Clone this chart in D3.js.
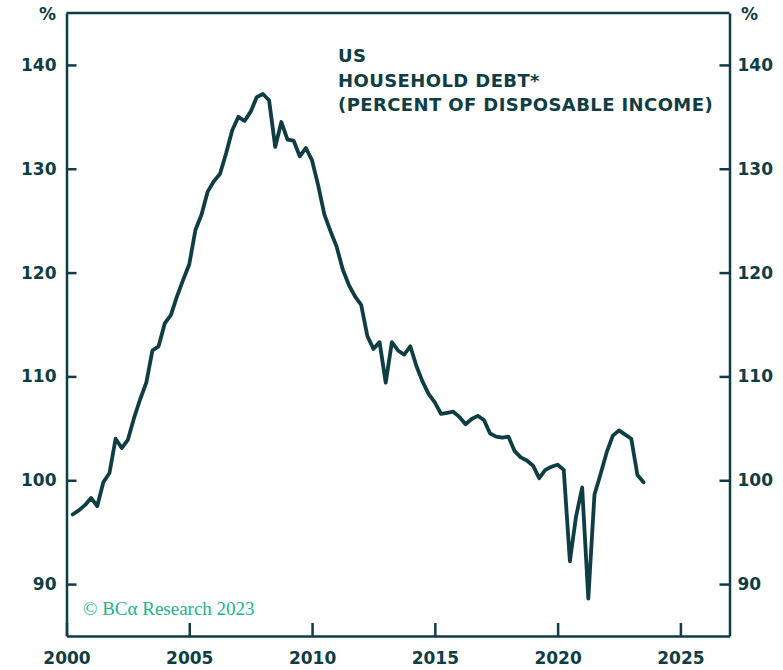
<!DOCTYPE html>
<html>
<head>
<meta charset="utf-8">
<script src="https://cdn.jsdelivr.net/npm/d3@7"></script>
<style>
  body { margin: 0; background: #fff; }
  svg { display: block; }
  .axis path, .axis line { stroke: #0e3d44; stroke-width: 2.5; }
  .axis text { fill: #0e3d44; font-family: "DejaVu Sans", sans-serif; font-weight: 700; font-size: 17px; }
</style>
</head>
<body>
<svg id="svg" width="783" height="670"></svg>
<script>
// quarterly periods (plotted at quarter end)
const quarters = [
  '2000Q1','2000Q2','2000Q3','2000Q4','2001Q1','2001Q2','2001Q3','2001Q4',
  '2002Q1','2002Q2','2002Q3','2002Q4','2003Q1','2003Q2','2003Q3','2003Q4',
  '2004Q1','2004Q2','2004Q3','2004Q4','2005Q1','2005Q2','2005Q3','2005Q4',
  '2006Q1','2006Q2','2006Q3','2006Q4','2007Q1','2007Q2','2007Q3','2007Q4',
  '2008Q1','2008Q2','2008Q3','2008Q4','2009Q1','2009Q2','2009Q3','2009Q4',
  '2010Q1','2010Q2','2010Q3','2010Q4','2011Q1','2011Q2','2011Q3','2011Q4',
  '2012Q1','2012Q2','2012Q3','2012Q4','2013Q1','2013Q2','2013Q3','2013Q4',
  '2014Q1','2014Q2','2014Q3','2014Q4','2015Q1','2015Q2','2015Q3','2015Q4',
  '2016Q1','2016Q2','2016Q3','2016Q4','2017Q1','2017Q2','2017Q3','2017Q4',
  '2018Q1','2018Q2','2018Q3','2018Q4','2019Q1','2019Q2','2019Q3','2019Q4',
  '2020Q1','2020Q2','2020Q3','2020Q4','2021Q1','2021Q2','2021Q3','2021Q4',
  '2022Q1','2022Q2','2022Q3','2022Q4','2023Q1','2023Q2'
];

// household debt, % of disposable income
const debtPct = [
  96.7, 97.1, 97.6, 98.3,  97.5, 99.8, 100.7, 104.0,
  103.1, 103.9, 106.0, 107.8,  109.4, 112.5, 112.9, 115.1,
  115.9, 117.7, 119.3, 120.8,  124.1, 125.6, 127.8, 128.8,
  129.5, 131.5, 133.7, 135.0,  134.6, 135.5, 136.9, 137.2,
  136.6, 132.1, 134.5, 132.8,  132.7, 131.2, 132.0, 130.8,
  128.4, 125.6, 124.0, 122.5,  120.3, 118.8, 117.7, 116.9,
  113.9, 112.65, 113.3, 109.4,  113.3, 112.5, 112.1, 112.9,
  111.0, 109.5, 108.3, 107.5,  106.4, 106.5, 106.6, 106.1,
  105.4, 105.9, 106.2, 105.8,  104.5, 104.2, 104.1, 104.2,
  102.8, 102.2, 101.9, 101.4,  100.2, 101.0, 101.3, 101.5,
  101.0, 92.2, 96.5, 99.3,  88.6, 98.6, 100.6, 102.7,
  104.3, 104.8, 104.4, 104.0,  100.5, 99.8
];

const yTicks = [90, 100, 110, 120, 130, 140];
const xTicks = [2000, 2005, 2010, 2015, 2020, 2025];
const titleLines = ['US', 'HOUSEHOLD DEBT*', '(PERCENT OF DISPOSABLE INCOME)'];

const ink = '#0e3d44';
const margin = {top: 13, right: 53.5, bottom: 34, left: 66.5};
const W = 783, H = 670;
const width = W - margin.left - margin.right;
const height = H - margin.top - margin.bottom;

const svg = d3.select('#svg');
const g = svg.append('g').attr('transform', `translate(${margin.left},${margin.top})`);

const toYear = q => +q.slice(0, 4) + (+q.slice(5)) / 4;
const data = quarters.map((q, i) => ({t: toYear(q), v: debtPct[i]}));

const x = d3.scaleLinear().domain([2000, 2027]).range([0, width]);
const y = d3.scaleLinear().domain([85, 145]).range([height, 0]);

// frame top
g.append('line').attr('x1', 0).attr('x2', width).attr('y1', 0).attr('y2', 0)
  .attr('stroke', ink).attr('stroke-width', 2.5);

// axes
g.append('g').attr('class', 'axis')
  .call(d3.axisLeft(y).tickValues(yTicks).tickSize(-10).tickSizeOuter(0).tickPadding(10));
g.append('g').attr('class', 'axis')
  .attr('transform', `translate(${width},0)`)
  .call(d3.axisRight(y).tickValues(yTicks).tickSize(-10).tickSizeOuter(0).tickPadding(8));
g.append('g').attr('class', 'axis')
  .attr('transform', `translate(0,${height})`)
  .call(d3.axisBottom(x).tickValues(xTicks).tickFormat(d3.format('d')).tickSize(-13).tickSizeOuter(0).tickPadding(11))
  .selectAll('text').attr('dy', '1em');

// % labels
[47.5, 749.5].forEach(px => {
  svg.append('text').attr('x', px).attr('y', 20).attr('text-anchor', 'middle')
    .attr('fill', ink).attr('font-family', '"DejaVu Sans", sans-serif').attr('font-weight', 700)
    .attr('font-size', 17).text('%');
});

// line
g.append('path').datum(data)
  .attr('fill', 'none').attr('stroke', ink).attr('stroke-width', 3.8)
  .attr('stroke-linejoin', 'round').attr('stroke-linecap', 'round')
  .attr('d', d3.line().x(d => x(d.t)).y(d => y(d.v)));

// title
const title = svg.append('text').attr('fill', ink)
  .attr('font-family', '"DejaVu Sans", sans-serif').attr('font-weight', 700).attr('font-size', 18)
  .attr('letter-spacing', 0.4);
titleLines.forEach((s, i) => {
  title.append('tspan').attr('x', 338).attr('y', 62 + i * 24.5).text(s);
});

// credit
svg.append('text').attr('x', 83).attr('y', 615)
  .attr('fill', '#1db38b').attr('font-family', '"Liberation Serif", serif').attr('font-size', 19)
  .text('© BCα Research 2023');
</script>
</body>
</html>
